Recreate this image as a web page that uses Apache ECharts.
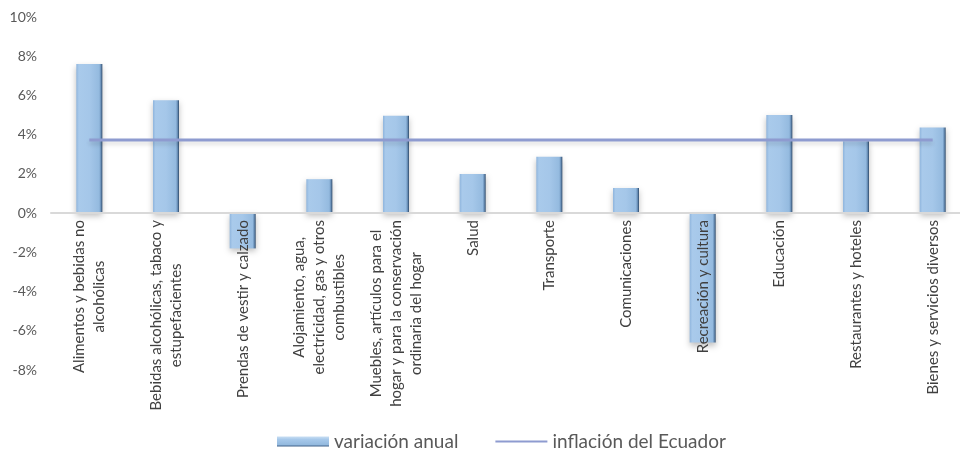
<!DOCTYPE html>
<html><head><meta charset="utf-8">
<script src="https://cdn.jsdelivr.net/npm/echarts@6/dist/echarts.min.js"></script>
<style>html,body{margin:0;padding:0;background:#fff}#c{width:960px;height:450px}</style>
</head><body><div id="c"></div>
<script>
const categories = [
  "Alimentos y bebidas no\nalcohólicas",
  "Bebidas alcohólicas, tabaco y\nestupefacientes",
  "Prendas de vestir y calzado",
  "Alojamiento, agua,\nelectricidad, gas y otros\ncombustibles",
  "Muebles, artículos para el\nhogar y para la conservación\nordinaria del hogar",
  "Salud",
  "Transporte",
  "Comunicaciones",
  "Recreación y cultura",
  "Educación",
  "Restaurantes y hoteles",
  "Bienes y servicios diversos"
];
const variacionAnual = [7.6, 5.75, -1.8, 1.73, 4.97, 2.0, 2.87, 1.28, -6.6, 5.0, 3.66, 4.37];
const inflacionEcuador = [3.73, 3.73, 3.73, 3.73, 3.73, 3.73, 3.73, 3.73, 3.73, 3.73, 3.73, 3.73];
const yTicks = {min: -8, max: 10, interval: 2};

const FONT = 'Lato';
const GRID_H = 353;
const zeroOffset = -GRID_H * (0 - yTicks.min) / (yTicks.max - yTicks.min);
const chart = echarts.init(document.getElementById('c'));
const barColor = new echarts.graphic.LinearGradient(0, 0, 1, 0, [
  {offset: 0, color: '#8fb5dd'},
  {offset: 0.1, color: '#a9caeb'},
  {offset: 0.5, color: '#a5c7e9'},
  {offset: 0.88, color: '#94badf'},
  {offset: 0.94, color: '#6a90b8'},
  {offset: 1, color: '#2c4868'}
]);
const legendBarColor = new echarts.graphic.LinearGradient(0, 0, 0, 1, [
  {offset: 0, color: '#c8def3'},
  {offset: 0.3, color: '#a6c8ea'},
  {offset: 0.8, color: '#94badf'},
  {offset: 1, color: '#3f6189'}
]);
chart.setOption({
  animation: false,
  textStyle: {fontFamily: FONT},
  grid: {left: 51, top: 17, width: 920, height: GRID_H, containLabel: false, outerBoundsMode: 'none'},
  legend: {
    top: 427, left: 272, itemGap: 36, itemWidth: 52, itemHeight: 10,
    textStyle: {fontFamily: FONT, fontSize: 19, color: '#595959'},
    data: [
      {name: 'variación anual', icon: 'rect', itemStyle: {color: legendBarColor}},
      {name: 'inflación del Ecuador', itemStyle: {opacity: 0}}
    ]
  },
  xAxis: {
    type: 'category', data: categories, offset: zeroOffset, z: 4,
    axisLine: {onZero: false, lineStyle: {color: '#d9d9d9', width: 2}},
    axisTick: {show: false},
    axisLabel: {
      rotate: 90, interval: 0, margin: 7, color: '#404040',
      fontFamily: FONT, fontSize: 15, lineHeight: 20,
      formatter: v => v.split('\n').map(l => '{c|' + l + '}').join('\n'),
      rich: {c: {align: 'center', fontFamily: FONT, fontSize: 15, lineHeight: 20, color: '#404040'}}
    }
  },
  yAxis: {
    type: 'value', min: yTicks.min, max: yTicks.max, interval: yTicks.interval,
    splitLine: {show: false}, axisLine: {show: false}, axisTick: {show: false},
    axisLabel: {formatter: v => v + '%', color: '#595959', fontFamily: FONT, fontSize: 14, margin: 14}
  },
  series: [
    {
      name: 'variación anual', type: 'bar', barWidth: 26, data: variacionAnual, z: 2,
      itemStyle: {color: barColor, shadowColor: 'rgba(0,0,0,0.25)', shadowBlur: 6, shadowOffsetY: 3}
    },
    {
      name: 'inflación del Ecuador', type: 'line', data: inflacionEcuador,
      symbol: 'none', z: 5,
      lineStyle: {color: '#8e9bd0', width: 3, shadowColor: 'rgba(0,0,0,0.15)', shadowBlur: 4, shadowOffsetY: 3},
      itemStyle: {color: '#8e9bd0'}
    }
  ]
});
</script></body></html>
